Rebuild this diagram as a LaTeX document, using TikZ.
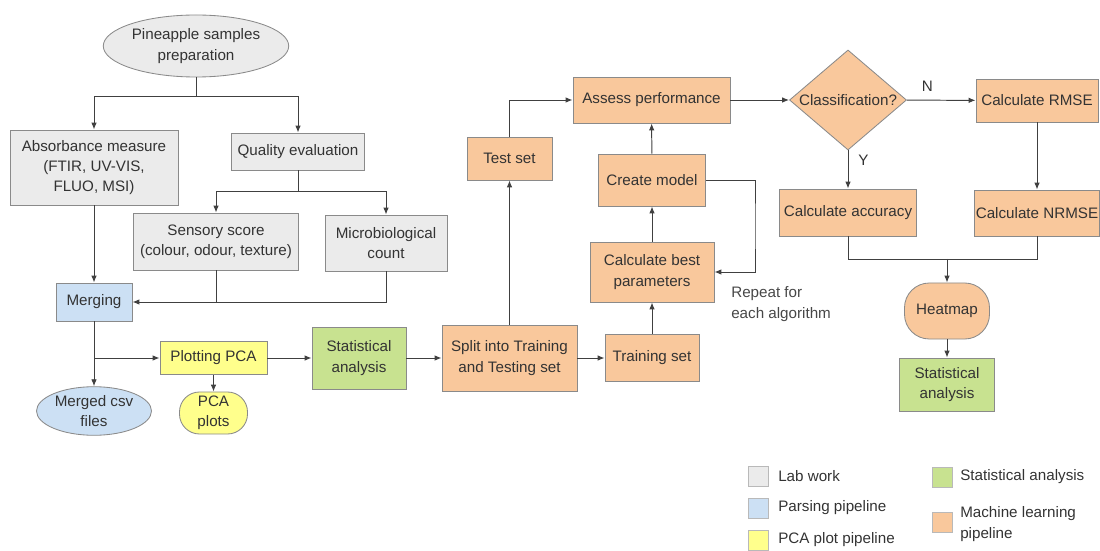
\documentclass[tikz,border=0pt]{standalone}
\usepackage{fontspec}
\setmainfont{Liberation Sans}
\usetikzlibrary{shapes.geometric,arrows.meta}
\definecolor{labgray}{HTML}{EBEBEB}
\definecolor{parseblue}{HTML}{CCE0F4}
\definecolor{pcayellow}{HTML}{FFFF8C}
\definecolor{statgreen}{HTML}{C8E290}
\definecolor{mlorange}{HTML}{F9C89C}
\definecolor{boxline}{HTML}{8A8A8A}
\definecolor{arrowline}{HTML}{404040}
\definecolor{inktext}{HTML}{333333}
\begin{document}
\begin{tikzpicture}[x=0.025cm, y=-0.025cm, text=inktext,
		font=\fontsize{10.8}{14.5}\selectfont,
		box/.style={draw=boxline, line width=0.6pt, align=center, inner sep=1pt},
		lab/.style={box, fill=labgray},
		parse/.style={box, fill=parseblue},
		pca/.style={box, fill=pcayellow},
		stat/.style={box, fill=statgreen},
		ml/.style={box, fill=mlorange},
		link/.style={draw=arrowline, line width=0.7pt, -{Latex[length=5pt,width=4pt]}},
		plain/.style={draw=arrowline, line width=0.7pt},
		swatch/.style={draw=boxline!60, line width=0.5pt, minimum size=0.5cm, inner sep=0pt},
		key/.style={anchor=west, align=left, inner sep=0pt}]
	\useasboundingbox (0,0) rectangle (1100,551);

	% Lab work
	\node[lab, ellipse, minimum width=4.3cm, minimum height=1.55cm] (prep) at (196,46) {Pineapple samples\\preparation};
	\node[lab, minimum width=4.2cm, minimum height=1.875cm] (absorb) at (94,167.5) {Absorbance measure\\(FTIR, UV-VIS,\\FLUO, MSI)};
	\node[lab, minimum width=3.325cm, minimum height=0.925cm] (quality) at (298,151.5) {Quality evaluation};
	\node[lab, minimum width=4.125cm, minimum height=1.425cm] (sensory) at (216,241.5) {Sensory score\\(colour, odour, texture)};
	\node[lab, minimum width=3.05cm, minimum height=1.4cm] (micro) at (386,243) {Microbiological\\count};
	\coordinate (forkA) at (196,96);
	\coordinate (forkB) at (298,191);

	% Parsing and PCA
	\node[parse, minimum width=1.9cm, minimum height=0.95cm] (merging) at (94,302) {Merging};
	\node[parse, ellipse, minimum width=2.775cm, minimum height=1.1cm] (merged) at (94,411) {Merged csv\\files};
	\node[pca, minimum width=2.675cm, minimum height=0.825cm] (plotpca) at (213.5,358) {Plotting PCA};
	\node[pca, rounded corners=0.5cm, minimum width=1.7cm, minimum height=1.05cm] (pcaplots) at (213.5,413) {PCA\\plots};
	\coordinate (forkC) at (94,358);

	% Machine learning
	\node[stat, minimum width=2.35cm, minimum height=1.55cm] (stata) at (359,358) {Statistical\\analysis};
	\node[ml, minimum width=3.375cm, minimum height=1.65cm] (split) at (509.5,358) {Split into Training\\and Testing set};
	\node[ml, minimum width=2.35cm, minimum height=1.175cm] (trainset) at (652,358) {Training set};
	\node[ml, minimum width=3.1cm, minimum height=1.5cm] (bestpar) at (652,272) {Calculate best\\parameters};
	\node[ml, minimum width=2.675cm, minimum height=1.3cm] (model) at (652,180) {Create model};
	\node[ml, minimum width=2.125cm, minimum height=1.075cm] (testset) at (509.5,158.5) {Test set};
	\node[ml, minimum width=3.925cm, minimum height=1.15cm] (assess) at (651.5,100) {Assess performance};
	\node[key, text=inktext!90] (repeat) at (731,304) {Repeat for\\each algorithm};
	\coordinate (loop) at (755,226);
	\node[ml, diamond, minimum width=2.925cm, minimum height=2.5cm, inner sep=0pt,
		label=center:Classification?] (classif) at (848,100) {};
	\node[ml, minimum width=3.05cm, minimum height=1.075cm] (rmse) at (1037,100.5) {Calculate RMSE};
	\node[ml, minimum width=3.425cm, minimum height=1.175cm] (accuracy) at (848,212.5) {Calculate accuracy};
	\node[ml, minimum width=3.1cm, minimum height=1.15cm] (nrmse) at (1037,213) {Calculate NRMSE};
	\coordinate (join) at (947,259);
	\node[ml, rounded corners=0.62cm, minimum width=2.125cm, minimum height=1.4cm] (heatmap) at (947,311) {Heatmap};
	\node[stat, minimum width=2.375cm, minimum height=1.325cm] (statb) at (947,384.5) {Statistical\\analysis};

	% Connectors
	\draw[plain] (prep) -- (forkA);
	\draw[link] (forkA) -| (absorb);
	\draw[link] (forkA) -| (quality);
	\draw[plain] (quality) -- (forkB);
	\draw[link] (forkB) -| (sensory);
	\draw[link] (forkB) -| (micro);
	\draw[link] (absorb) -- (merging);
	\draw[plain] (sensory) -- (sensory |- merging);
	\draw[link] (micro) |- (merging);
	\draw[link] (merging) -- (merged);
	\draw[link] (forkC) -- (plotpca);
	\draw[link] (plotpca) -- (pcaplots);
	\draw[link] (plotpca) -- (stata);
	\draw[link] (stata) -- (split);
	\draw[link] (split) -- (trainset);
	\draw[link] (split) -- (testset);
	\draw[link] (testset) |- (assess);
	\draw[link] (trainset) -- (bestpar);
	\draw[link] (bestpar) -- (model);
	\draw[link] (model) -- (assess);
	\draw[link] (model.east) -| (loop) |- (bestpar.east);
	\draw[link] (assess) -- (classif);
	\draw[link] (classif) -- node[pos=0.3, above=5pt, inner sep=1pt] (nolab) {N} (rmse);
	\draw[link] (classif) -- node[pos=0.25, right=6pt, inner sep=1pt] (yeslab) {Y} (accuracy);
	\draw[link] (rmse) -- (nrmse);
	\draw[plain] (accuracy) |- (join);
	\draw[plain] (nrmse) |- (join);
	\draw[link] (join) -- (heatmap);
	\draw[link] (heatmap) -- (statb);

	% Legend
	\node[swatch, fill=labgray] (keylab) at (758,476) {};
	\node[swatch, fill=parseblue] (keyparse) at (758,508) {};
	\node[swatch, fill=pcayellow] (keypca) at (758,540) {};
	\node[swatch, fill=statgreen] (keystat) at (942.5,477) {};
	\node[swatch, fill=mlorange] (keyml) at (942.5,522) {};
	\node[key] (keylabtxt) at (778,476) {Lab work};
	\node[key] (keyparsetxt) at (778,508) {Parsing pipeline};
	\node[key] (keypcatxt) at (778,540) {PCA plot pipeline};
	\node[key] (keystattxt) at (960,477) {Statistical analysis};
	\node[key] (keymltxt) at (960,524) {Machine learning\\pipeline};
\end{tikzpicture}
\end{document}
